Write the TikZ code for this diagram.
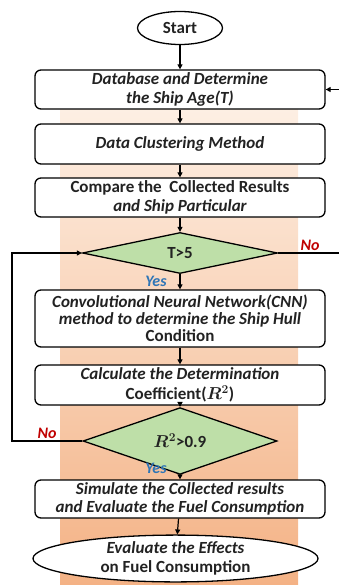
\documentclass[tikz,border=0pt]{standalone}
\usepackage{fontspec}
\setmainfont{Carlito}
\usetikzlibrary{shapes.geometric,arrows.meta}
\definecolor{textgray}{RGB}{34,34,34}
\definecolor{diagreen}{RGB}{190,223,168}
\definecolor{peachtop}{RGB}{253,240,229}
\definecolor{peachbot}{RGB}{244,178,133}
\definecolor{noRed}{RGB}{192,0,0}
\definecolor{yesBlue}{RGB}{46,117,182}
\tikzset{
  flowbox/.style={draw=black, fill=white, rounded corners=6pt, line width=1.3pt,
    minimum width=290pt, align=center, text=textgray, inner sep=1pt,
    font=\bfseries\itshape\boldmath\fontsize{17}{18.5}\selectfont},
  decision/.style={draw=black, fill=diagreen, diamond, line width=1.3pt, inner sep=0pt,
    text=textgray, font=\bfseries\boldmath\fontsize{17}{18}\selectfont},
  terminal/.style={draw=black, fill=white, ellipse, line width=1.3pt, inner sep=0pt,
    align=center, text=textgray, font=\bfseries\itshape\fontsize{17}{18.5}\selectfont},
  flowarrow/.style={line width=1.2pt, -{Triangle[length=5pt,width=5pt]}},
  branch/.style={font=\bfseries\itshape\fontsize{16}{16}\selectfont}
}
\begin{document}
\begin{tikzpicture}[x=1pt,y=-1pt]
\useasboundingbox (0,0) rectangle (339,585);
% background band
\shade[top color=peachtop, bottom color=peachbot] (60,100) rectangle (298,585);
% terminals and process boxes
\node[terminal, minimum width=85pt, minimum height=33pt, font=\bfseries\fontsize{17}{18}\selectfont] (start) at (180,28) {Start};
\node[flowbox, minimum height=39pt] (db) at (180,89.5) {Database and Determine\\the Ship Age(T)};
\node[flowbox, minimum height=40pt] (cluster) at (180,144) {Data Clustering Method};
\node[flowbox, minimum height=39pt] (compare) at (180,197.5) {{\upshape Compare the\ \ Collected Results}\\and Ship Particular};
\node[decision, minimum width=195pt, minimum height=41pt] (age) at (180,253) {T>5};
\node[flowbox, minimum height=57pt, font=\bfseries\itshape\fontsize{17}{17}\selectfont] (cnn) at (180,318.5) {Convolutional Neural Network(CNN)\\method to determine the Ship Hull\\{\upshape Condition}};
\node[flowbox, minimum height=40pt] (coef) at (180,385) {Calculate the Determination\\[1pt]{\upshape Coefficient($R^2$)}};
\node[decision, minimum width=194pt, minimum height=43pt] (rsq) at (180,441) {$R^2$>0.9};
\node[flowbox, minimum height=38pt] (sim) at (180,499) {Simulate the Collected results\\and Evaluate the Fuel Consumption};
\node[terminal, minimum width=285pt, minimum height=44pt] (effects) at (175.5,558.5) {Evaluate the Effects\\{\upshape on Fuel Consumption}};
% main flow
\draw[flowarrow] (start) -- (db);
\draw[flowarrow] (db) -- (cluster);
\draw[flowarrow] (cluster) -- (compare);
\draw[flowarrow] (compare) -- (age);
\draw[flowarrow] (age) -- (cnn);
\draw[flowarrow] (cnn) -- (coef);
\draw[flowarrow] (coef) -- (rsq);
\draw[flowarrow] (rsq) -- (sim);
\draw[flowarrow] (sim) -- (effects);
% loops
\coordinate (rightturn) at (345,253);
\coordinate (righttop) at (345,89.5);
\coordinate (leftturn) at (12,441);
\coordinate (lefttop) at (12,253);
\draw[flowarrow] (age.east) -- (rightturn) -- (righttop) -- (db.east);
\draw[flowarrow] (rsq.west) -- (leftturn) -- (lefttop) -- (age.west);
% branch labels
\node[branch, text=noRed] (noage) at (310,245) {No};
\node[branch, text=yesBlue] (yesage) at (156,281) {Yes};
\node[branch, text=noRed] (norsq) at (47,433) {No};
\node[branch, text=yesBlue] (yesrsq) at (156,468) {Yes};
\end{tikzpicture}
\end{document}
